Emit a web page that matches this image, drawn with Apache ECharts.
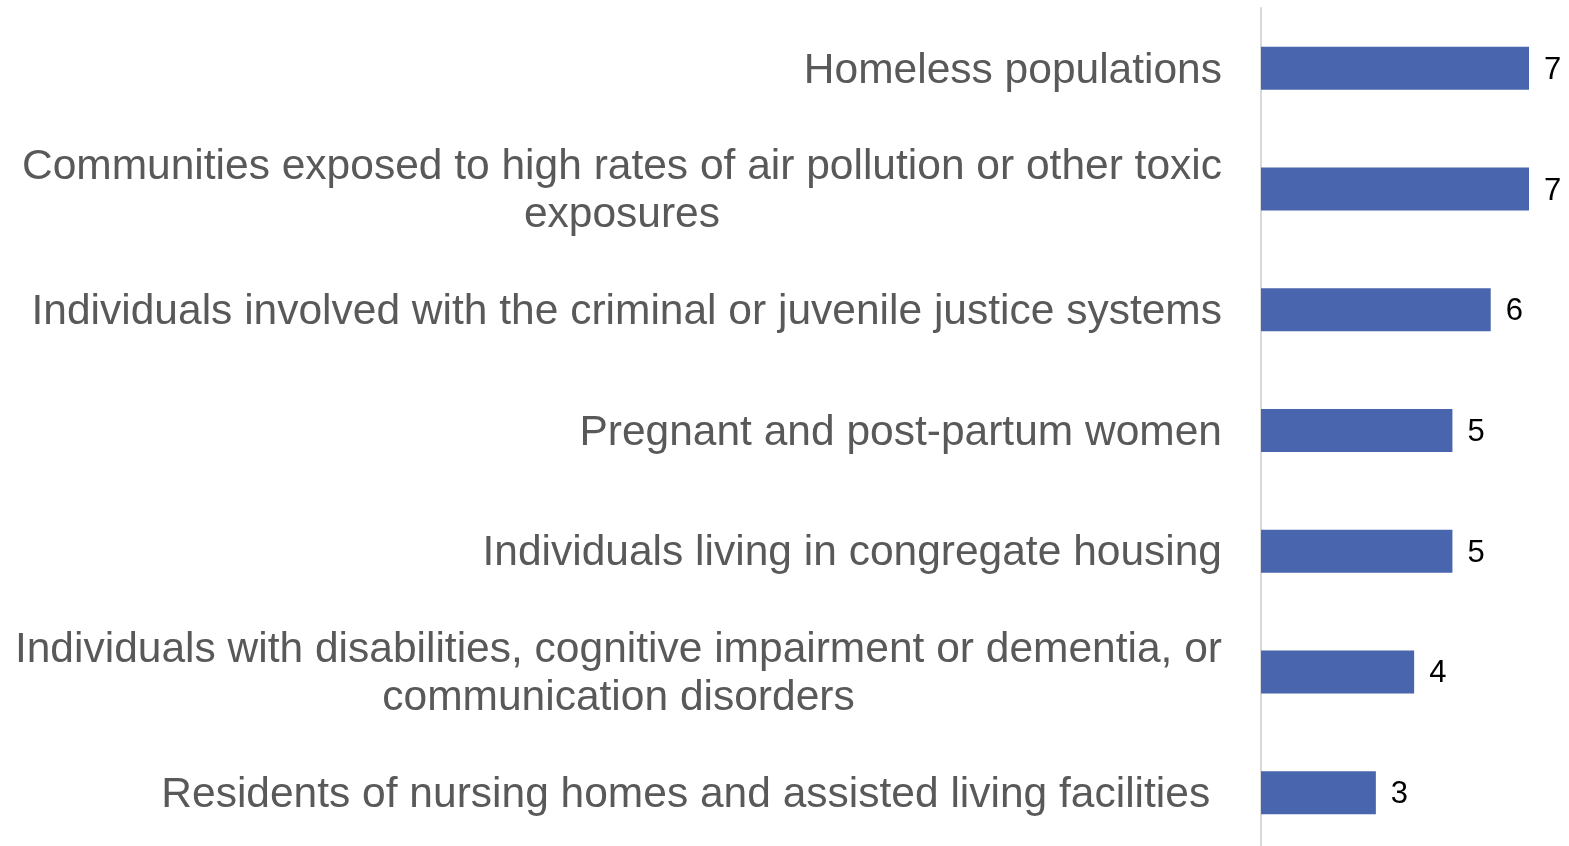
<!DOCTYPE html>
<html>
<head>
<meta charset="utf-8">
<script src="https://cdn.jsdelivr.net/npm/echarts@6/dist/echarts.min.js"></script>
<style>html,body{margin:0;padding:0;background:#fff;}#chart{width:1569px;height:846px;}</style>
</head>
<body>
<div id="chart"></div>
<script>
var categories = [
  "Homeless populations",
  "Communities exposed to high rates of air pollution or other toxic\nexposures",
  "Individuals involved with the criminal or juvenile justice systems",
  "Pregnant and post-partum women",
  "Individuals living in congregate housing",
  "Individuals with disabilities, cognitive impairment or dementia, or\ncommunication disorders",
  "Residents of nursing homes and assisted living facilities "
];
var values = [7, 7, 6, 5, 5, 4, 3];

var chart = echarts.init(document.getElementById('chart'));
chart.setOption({
  animation: false,
  backgroundColor: '#ffffff',
  grid: { left: 1261, width: 268, top: 8, height: 845, containLabel: false, outerBoundsMode: 'none' },
  xAxis: {
    type: 'value', min: 0, max: 7,
    show: false
  },
  yAxis: {
    type: 'category', data: categories, inverse: true,
    axisLine: { show: true, lineStyle: { color: '#d9d9d9', width: 2 } },
    axisTick: { show: false },
    axisLabel: {
      margin: 39,
      padding: [5, 0, 0, 0],
      fontFamily: 'Liberation Sans, Arial, sans-serif',
      fontSize: 42.5,
      color: '#595959',
      lineHeight: 48,
      formatter: function (v) {
        return v.split('\n').map(function (s) { return '{c|' + s + '}'; }).join('\n');
      },
      rich: { c: { align: 'center', fontSize: 42.5, lineHeight: 48, color: '#595959', fontFamily: 'Liberation Sans, Arial, sans-serif' } }
    }
  },
  series: [{
    type: 'bar', data: values, barWidth: 43,
    itemStyle: { color: '#4865ad' },
    label: {
      show: true, position: 'right', distance: 15, offset: [0, 2],
      fontFamily: 'Liberation Sans, Arial, sans-serif', fontSize: 31, color: '#000000'
    }
  }]
});
</script>
</body>
</html>
